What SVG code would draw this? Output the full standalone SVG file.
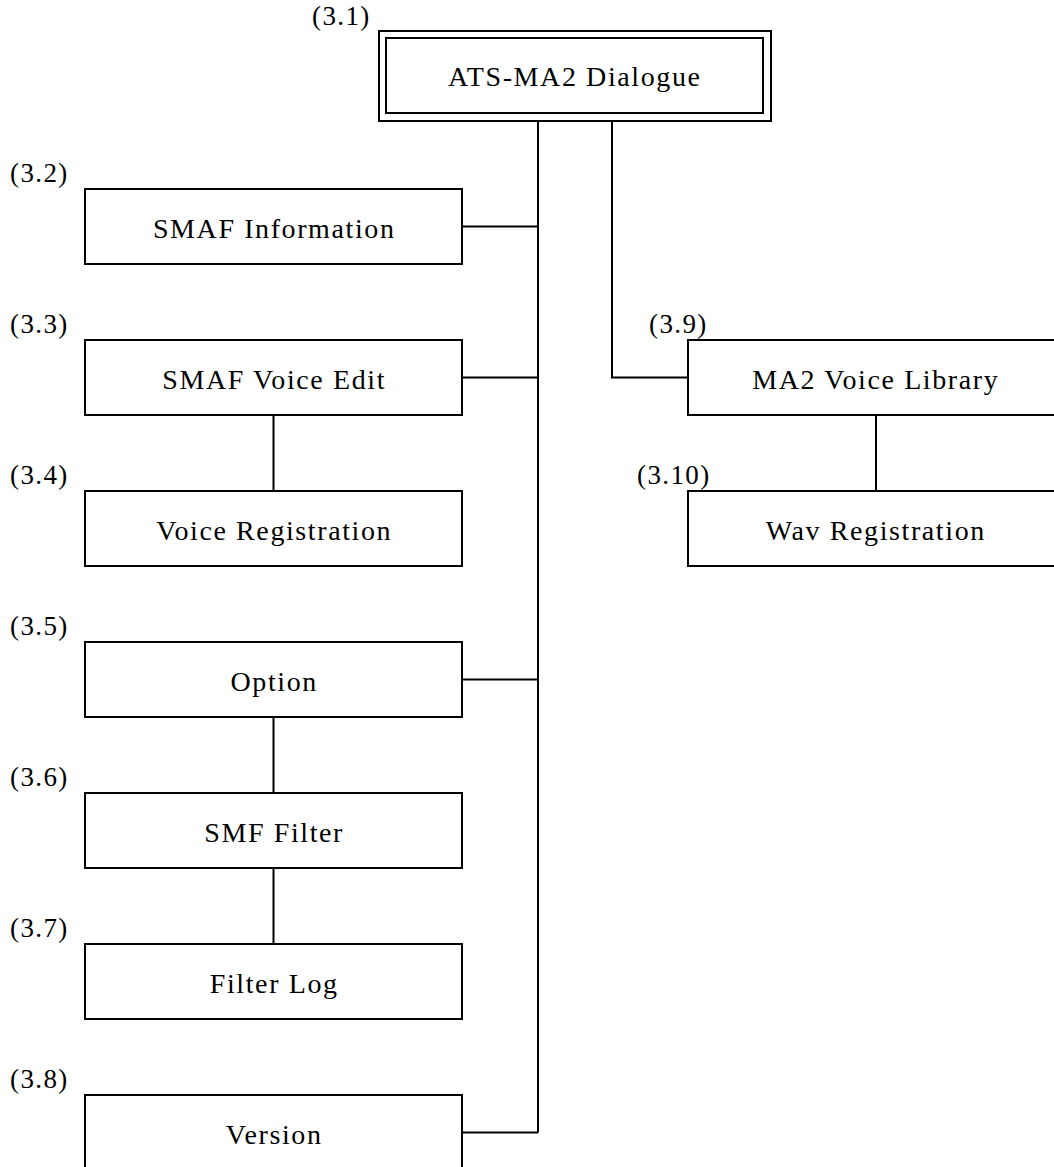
<svg xmlns="http://www.w3.org/2000/svg" width="1054" height="1167" viewBox="0 0 1054 1167">
<style>
.box{fill:#fff;stroke:#000;stroke-width:2}
.ln{fill:none;stroke:#000;stroke-width:2}
.t{font-family:"Liberation Serif","Times New Roman",serif;font-size:28px;letter-spacing:1.6px;text-anchor:middle;fill:#000}
.n{font-family:"Liberation Serif","Times New Roman",serif;font-size:27px;letter-spacing:1.4px;fill:#000}
</style>
<rect width="1054" height="1167" fill="#fff"/>
<g id="connectors">
<path class="ln" d="M538 121V1132.5M462 226.5H538M462 377.5H538M462 679.5H538M462 1132.5H538"/>
<path class="ln" d="M612 121V377.5H688"/>
<path class="ln" d="M273.5 415V491M273.5 717V793M273.5 868V944M876 415V491"/>
</g>
<g id="n3_1">
<rect class="box" x="379" y="31" width="392" height="90"/>
<rect class="box" x="386" y="38" width="377" height="75"/>
<text class="t" x="574.8" y="86">ATS-MA2 Dialogue</text>
<text class="n" x="312" y="25">(3.1)</text>
</g>
<g id="n3_2">
<rect class="box" x="85" y="189" width="377" height="75"/>
<text class="t" x="274.2" y="237.5">SMAF Information</text>
<text class="n" x="10" y="182">(3.2)</text>
</g>
<g id="n3_3">
<rect class="box" x="85" y="340" width="377" height="75"/>
<text class="t" x="274.2" y="388.5">SMAF Voice Edit</text>
<text class="n" x="10" y="333">(3.3)</text>
</g>
<g id="n3_4">
<rect class="box" x="85" y="491" width="377" height="75"/>
<text class="t" x="274.2" y="539.5">Voice Registration</text>
<text class="n" x="10" y="484">(3.4)</text>
</g>
<g id="n3_5">
<rect class="box" x="85" y="642" width="377" height="75"/>
<text class="t" x="274.2" y="690.5">Option</text>
<text class="n" x="10" y="635">(3.5)</text>
</g>
<g id="n3_6">
<rect class="box" x="85" y="793" width="377" height="75"/>
<text class="t" x="274.2" y="841.5">SMF Filter</text>
<text class="n" x="10" y="786">(3.6)</text>
</g>
<g id="n3_7">
<rect class="box" x="85" y="944" width="377" height="75"/>
<text class="t" x="274.2" y="992.5">Filter Log</text>
<text class="n" x="10" y="937">(3.7)</text>
</g>
<g id="n3_8">
<rect class="box" x="85" y="1095" width="377" height="75"/>
<text class="t" x="274.2" y="1143.5">Version</text>
<text class="n" x="10" y="1088">(3.8)</text>
</g>
<g id="n3_9">
<rect class="box" x="688" y="340" width="377" height="75"/>
<text class="t" x="875.8" y="388.5">MA2 Voice Library</text>
<text class="n" x="649" y="333">(3.9)</text>
</g>
<g id="n3_10">
<rect class="box" x="688" y="491" width="377" height="75"/>
<text class="t" x="875.8" y="539.5">Wav Registration</text>
<text class="n" x="637" y="484">(3.10)</text>
</g>
</svg>
